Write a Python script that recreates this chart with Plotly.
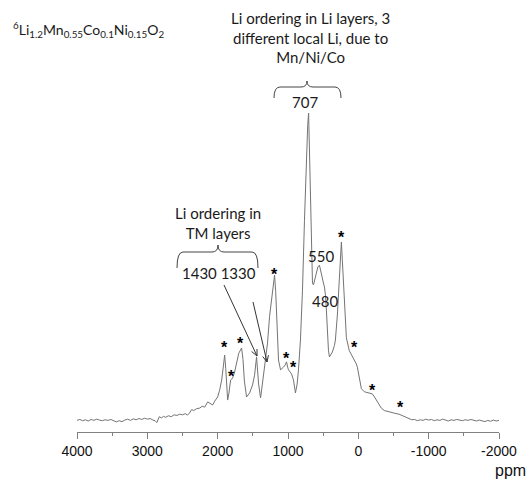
import math
import plotly.graph_objects as go

# ---- spectrum (ppm, relative intensity; main peak = 100) ----
ppm = [4000, 3960, 3920, 3880, 3840, 3800, 3760, 3720, 3680, 3640, 3600, 3560, 3520, 3480,
       3440, 3400, 3360, 3320, 3280, 3240, 3200, 3160, 3120, 3080, 3040, 3000, 2960, 2920,
       2890, 2865, 2845, 2830, 2800, 2770, 2740, 2700, 2660, 2620, 2580, 2540, 2500, 2460,
       2430, 2400, 2370, 2340, 2300, 2255, 2220, 2184, 2142, 2110, 2071, 2040, 2000, 1972,
       1943, 1915, 1901, 1885, 1870, 1858, 1840, 1816, 1800, 1787, 1759, 1730, 1700, 1660,
       1640, 1620, 1600, 1589, 1546, 1504, 1475, 1447, 1418, 1390, 1370, 1347, 1319, 1300,
       1291, 1262, 1234, 1210, 1191, 1175, 1163, 1150, 1135, 1106, 1085, 1064, 1040, 1021,
       1005, 993, 970, 950, 922, 905, 894, 870, 851, 823, 794, 766, 738, 720, 707, 695,
       681, 667, 652, 638, 620, 596, 575, 553, 540, 525, 496, 482, 468, 454, 440, 425, 411,
       390, 369, 340, 326, 298, 269, 255, 241, 227, 213, 199, 170, 128, 85, 57, 28, 14, 0,
       -14, -43, -85, -140, -199, -230, -255, -290, -326, -369, -440, -520, -580, -610, -660,
       -723, -760, -800, -840, -880, -920, -960, -1000, -1040, -1080, -1120, -1160, -1200,
       -1240, -1280, -1320, -1360, -1400, -1440, -1480, -1520, -1560, -1600, -1640, -1680,
       -1720, -1760, -1800, -1840, -1880, -1920, -1960, -2000]
intensity = [0.2, 0.5, 0.1, 0.4, 0.0, 0.5, 0.2, 0.6, 0.3, 0.1, 0.4, 0.2, 0.5, 0.0,
             -0.3, 0.1, -0.2, 0.3, 0.6, 0.2, 0.7, 0.4, 0.8, 0.5, 0.9, 0.6, 0.8, 0.3,
             0.1, -0.5, 0.4, 1.4, 1.0, 1.5, 1.2, 1.7, 1.4, 2.0, 1.8, 2.2, 2.0, 2.4,
             1.9, 2.6, 3.7, 3.4, 4.0, 4.2, 4.8, 4.5, 6.2, 5.7, 5.2, 6.5, 7.8, 10.0,
             13.3, 18.5, 21.4, 17.0, 10.0, 6.8, 9.0, 13.3, 13.6, 14.0, 15.9, 19.0, 22.0, 23.7,
             20.0, 13.0, 9.5, 7.8, 9.1, 11.7, 14.9, 20.8, 12.0, 7.5, 11.0, 14.9, 19.2, 23.0,
             25.3, 34.0, 39.3, 44.5, 47.4, 42.0, 33.8, 24.0, 19.8, 16.6, 17.0, 17.5, 18.2, 19.2,
             17.5, 16.6, 15.9, 15.3, 13.3, 11.0, 9.1, 12.0, 16.6, 26.3, 42.5, 65.0, 88.0, 96.0, 100.0, 88.0,
             71.8, 55.5, 44.8, 44.2, 46.0, 48.4, 50.0, 50.6, 49.0, 47.4, 44.8, 43.5, 41.0, 36.0, 27.9, 23.0, 20.8,
             21.5, 22.4, 24.5, 26.3, 34.4, 47.4, 53.0, 58.1, 52.0, 45.8, 37.0, 27.0, 22.8, 21.0, 19.8, 18.5, 17.5, 16.0,
             13.5, 10.5, 9.5, 9.2, 8.8, 7.8, 6.8, 5.2, 4.2, 3.4, 2.9, 2.5, 2.2, 1.9, 1.2,
             0.6, 0.4, 0.5, 0.1, 0.4, 0.2, 0.6, 0.3, 0.5, 0.1, 0.4, 0.2, 0.6,
             0.3, 0.0, 0.4, 0.2, 0.5, 0.3, 0.1, 0.4, 0.2, 0.5, 0.3, 0.0,
             0.3, 0.1, -0.2, 0.2, -0.1, 0.3, 0.0, 0.2]

# spinning side bands marked with asterisks (ppm, intensity of the mark)
star_ppm = [1901, 1801, 1674, 1191, 1021, 922, 241, 57, -199, -596]
star_int = [24.7, 15.3, 26.3, 48.7, 21.4, 18.2, 60.7, 24.7, 11.0, 5.2]

tick_vals = [4000, 3000, 2000, 1000, 0, -1000, -2000]
tick_text = ["4000", "3000", "2000", "1000", "0", "-1000", "-2000"]

# ---- layout geometry ----
W, H = 528, 480
L, R, T, B = 77, 29, 0, 48
PW, PH = W - L - R, H - T - B


def fx(x):
    return (x - L) / PW


def fy(y):
    return (H - B - y) / PH


TXT = dict(family="Lato, Carlito, sans-serif", size=15, color="#1a1a1a")

fig = go.Figure()
fig.add_trace(go.Scatter(x=ppm, y=intensity, mode="lines",
                         line=dict(color="#747474", width=1), hoverinfo="skip"))

ann = []
for sx, sy in zip(star_ppm, star_int):
    ann.append(dict(x=sx, y=sy, xref="x", yref="y", text="<b>*</b>", showarrow=False,
                    font=dict(family="Liberation Sans, Arial", size=16, color="#000"),
                    xanchor="center", yanchor="middle", yshift=-3))


def label(x, y, text, size=15):
    ann.append(dict(x=fx(x), y=fy(y), xref="paper", yref="paper", text=text,
                    showarrow=False, xanchor="center", yanchor="middle",
                    font=dict(TXT, size=size), align="center"))


label(88, 29, "<sup>6</sup>Li<sub>1.2</sub>Mn<sub>0.55</sub>Co<sub>0.1</sub>Ni<sub>0.15</sub>O<sub>2</sub>", size=14)
label(310, 38, "Li ordering in Li layers, 3<br>different local Li, due to<br>Mn/Ni/Co")
label(305, 102, "707")
label(218, 223, "Li ordering in<br>TM layers")
label(219, 273, "1430 1330")
label(321, 256, "550")
label(325, 301, "480")

ann.append(dict(x=fx(510), y=fy(471), xref="paper", yref="paper", text="ppm",
                showarrow=False, xanchor="center", yanchor="middle",
                font=dict(family="Liberation Sans, Arial", size=16, color="#111")))


def brace(x0, x1, xc, yh, yend, ynotch, r=6):
    p = (f"M {fx(x0)} {fy(yend)} Q {fx(x0)} {fy(yh)} {fx(x0 + r)} {fy(yh)} "
         f"L {fx(xc - r)} {fy(yh)} Q {fx(xc)} {fy(yh)} {fx(xc)} {fy(ynotch)} "
         f"Q {fx(xc)} {fy(yh)} {fx(xc + r)} {fy(yh)} "
         f"L {fx(x1 - r)} {fy(yh)} Q {fx(x1)} {fy(yh)} {fx(x1)} {fy(yend)}")
    return dict(type="path", xref="paper", yref="paper", path=p,
                line=dict(color="#444", width=1))


def arrow(tx, ty, hx, hy, hl=7, ang=25):
    dx, dy = hx - tx, hy - ty
    n = math.hypot(dx, dy)
    ux, uy = dx / n, dy / n
    wings = []
    for s in (1, -1):
        a = math.radians(ang) * s
        wx = -(ux * math.cos(a) - uy * math.sin(a)) * hl
        wy = -(ux * math.sin(a) + uy * math.cos(a)) * hl
        wings.append((hx + wx, hy + wy))
    p = (f"M {fx(tx)} {fy(ty)} L {fx(hx)} {fy(hy)} "
         f"M {fx(wings[0][0])} {fy(wings[0][1])} L {fx(hx)} {fy(hy)} "
         f"L {fx(wings[1][0])} {fy(wings[1][1])}")
    return dict(type="path", xref="paper", yref="paper", path=p,
                line=dict(color="#333", width=1))


shapes = [brace(274, 341, 307, 87, 98, 81), brace(177, 258, 218, 252, 268, 245),
          arrow(224, 285, 257, 356), arrow(253, 302, 267, 362)]

fig.update_layout(
    width=W, height=H, margin=dict(l=L, r=R, t=T, b=B, pad=0),
    paper_bgcolor="white", plot_bgcolor="white", showlegend=False,
    annotations=ann, shapes=shapes,
    xaxis=dict(range=[4000, -2000], showgrid=False, zeroline=False,
               showline=True, linecolor="#808080", linewidth=1,
               ticks="outside", ticklen=6, tickcolor="#808080", tickwidth=1,
               tickvals=tick_vals, ticktext=tick_text,
               tickfont=dict(family="Liberation Sans, Arial", size=14, color="#111"),
               minor=dict(ticks="outside", ticklen=3, dtick=500, tickcolor="#808080",
                          showgrid=False)),
    yaxis=dict(range=[-11 / 3.08, 421 / 3.08], visible=False, showgrid=False,
               zeroline=False),
)

fig.write_html("out.html")
